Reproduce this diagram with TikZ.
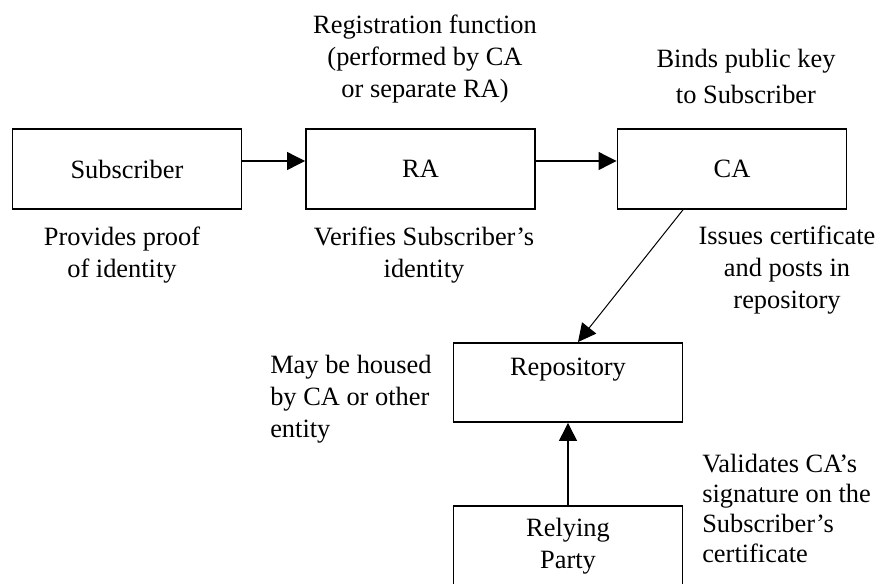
\documentclass[tikz,border=0pt]{standalone}
\usepackage{fontspec}
\setmainfont{Liberation Serif}
\usepackage{tikz}
\usetikzlibrary{arrows.meta}

\tikzset{
  pkibox/.style={draw,line width=1.2pt,minimum width=172pt,minimum height=60pt,inner sep=0pt},
  pkinote/.style={align=center,inner sep=0pt,anchor=base},
  pkiarrow/.style={line width=0.9pt,-{Triangle[length=13.5pt,width=13.5pt]}},
}

\begin{document}
\begin{tikzpicture}[x=0.75pt,y=-0.75pt,font=\fontsize{19.8pt}{24pt}\selectfont]
\useasboundingbox (0,0) rectangle (879,583);
\clip (0,0) rectangle (879,583);
% the chain of boxes
\node[pkibox] (sub) at (127,169) {Subscriber};
\node[pkibox] (ra) at (420.5,169) {RA};
\node[pkibox] (ca) at (732,169) {CA};
\node[pkibox,minimum height=0pt,text height=24.5pt,text depth=35pt,anchor=north] (repo) at (568,342) {Repository};
\node[pkibox,align=center] (rp) at (568,546) {Relying\\Party};

% notes (placed by the baseline of their last line)
\node[pkinote] (regnote) at (425,97) {Registration function\\(performed by CA\\or separate RA)};
\node[pkinote,font=\fontsize{19.8pt}{27pt}\selectfont] (bindnote) at (746,103) {Binds public key\\to Subscriber};
\node[pkinote] (proofnote) at (122,277) {Provides proof\\of identity};
\node[pkinote] (verinote) at (424,277) {Verifies Subscriber’s\\identity};
\node[pkinote] (issuenote) at (787,308) {Issues certificate\\and posts in\\repository};
\node[pkinote,align=left,anchor=base west] (housenote) at (270,437) {May be housed\\by CA or other\\entity};
\node[pkinote,align=left,anchor=base west,font=\fontsize{19.8pt}{22.5pt}\selectfont] (validnote) at (702,562) {Validates CA’s\\signature on the\\Subscriber’s\\certificate};

% arrows
\draw[pkiarrow] ([yshift=6pt]sub.east) -- ([yshift=6pt]ra.west);
\draw[pkiarrow] ([yshift=6pt]ra.east) -- ([yshift=6pt]ca.west);
\draw[pkiarrow,line width=0.75pt] ([xshift=-36.75pt]ca.south) -- ([xshift=7.5pt]repo.north);
\draw[pkiarrow] (rp.north) -- (repo.south);
\end{tikzpicture}
\end{document}
